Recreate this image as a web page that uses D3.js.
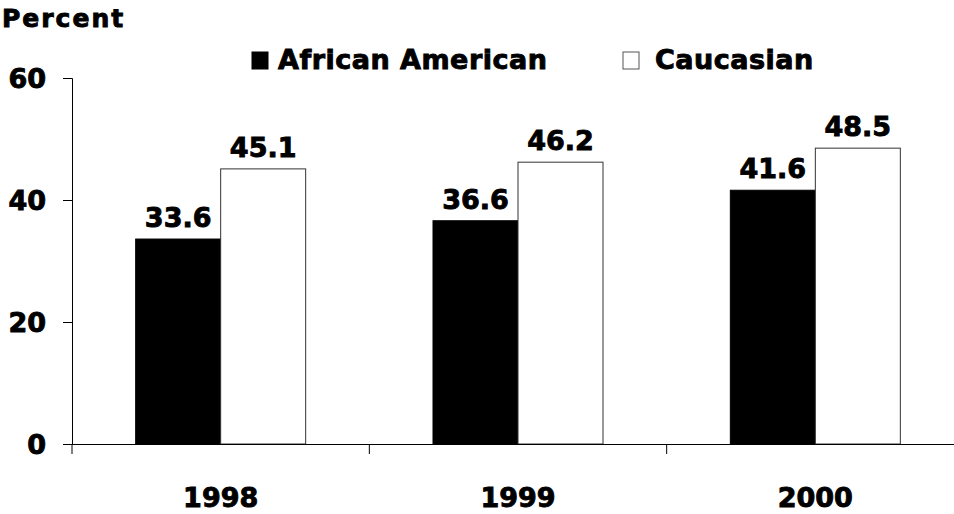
<!DOCTYPE html>
<html><head><meta charset="utf-8">
<script src="https://cdn.jsdelivr.net/npm/d3@7"></script>
<style>
body{margin:0;background:#fff;}
svg text{font-family:"DejaVu Sans",sans-serif;font-weight:bold;fill:#000;stroke:#000;stroke-width:0.9px;}
</style></head>
<body><svg id="c" width="954" height="514"></svg>
<script>
const years = ["1998","1999","2000"];
const seriesNames = ["African American","Caucasian"];
const africanAmerican = [33.6,36.6,41.6];
const caucasian = [45.1,46.2,48.5];
const yTicks = [0,20,40,60];

const svg = d3.select("#c");
const x0 = 72, x1 = 964, yTop = 78, yBot = 444;
const x = d3.scaleBand().domain(years).range([x0,x1]).paddingInner(0).paddingOuter(0);
const y = d3.scaleLinear().domain([0,60]).range([yBot,yTop]);
const barW = 85;
const colors = ["#000","#fff"];
const data = years.map((yr,i)=>({yr, vals:[africanAmerican[i],caucasian[i]]}));

// y axis
const yAxis = svg.append("g").attr("transform",`translate(${x0},0)`)
  .call(d3.axisLeft(y).tickValues(yTicks).tickSize(9).tickPadding(17).tickFormat(d3.format("d")));
yAxis.attr("font-family",null).attr("font-size",null);
yAxis.select(".domain").attr("stroke","#000").attr("stroke-width",1);
yAxis.selectAll(".tick line").attr("stroke","#000");
yAxis.selectAll("text").style("font-size","27px").attr("fill","#000").attr("dy","0.36em");

// bars
data.forEach(d=>{
  const cx = x(d.yr)+x.bandwidth()/2;
  d.vals.forEach((v,j)=>{
    const bx = cx - barW + j*barW;
    svg.append("rect").attr("x",bx).attr("y",y(v)).attr("width",barW).attr("height",yBot-y(v))
      .attr("fill",colors[j]).attr("stroke",j? "#333":"#000").attr("stroke-width",1);
    svg.append("text").attr("x",bx+barW/2).attr("y",y(v)-12).attr("text-anchor","middle")
      .style("font-size","27px").text(v.toFixed(1));
  });
});

// x axis
const xAxis = svg.append("g").attr("transform",`translate(0,${yBot})`)
  .call(d3.axisBottom(x).tickSize(0).tickPadding(0));
xAxis.attr("font-family",null).attr("font-size",null);
xAxis.select(".domain").attr("stroke","#000").attr("stroke-width",1).attr("d",`M${x0},0.5H954`);
xAxis.selectAll("text").style("font-size","27px").attr("fill","#000").attr("dy",null).attr("y",63);
// category separator ticks
const sepTicks = [x0, ...years.slice(1).map(yr=>x(yr))];
svg.selectAll(".sep").data(sepTicks).enter().append("line")
  .attr("x1",d=>d).attr("x2",d=>d).attr("y1",yBot).attr("y2",yBot+10).attr("stroke","#000");

// title
svg.append("text").attr("x",2).attr("y",27).style("font-size","25px").style("letter-spacing","2px").text("Percent");

// legend
const leg = [{x:252,tx:278,name:seriesNames[0],c:"#000"},{x:623,tx:655,name:seriesNames[1],c:"#fff"}];
leg.forEach(l=>{
  svg.append("rect").attr("x",l.x).attr("y",52).attr("width",16).attr("height",17)
    .attr("fill",l.c).attr("stroke",l.c==="#000"?"#000":"#555").attr("stroke-width",1);
  svg.append("text").attr("x",l.tx).attr("y",69).style("font-size","27px").style("letter-spacing","0.5px").text(l.name);
});
</script></body></html>
